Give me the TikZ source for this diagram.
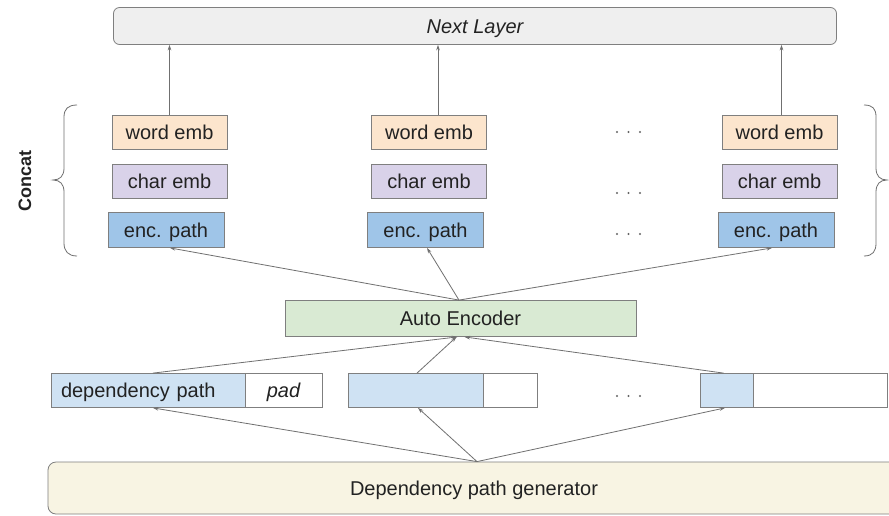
\documentclass[tikz,border=0pt]{standalone}
\usepackage{fontspec}
\setmainfont{Liberation Sans}
\usetikzlibrary{arrows.meta,calc}
\definecolor{txt}{HTML}{222222}
\definecolor{bord}{HTML}{7F7F7F}
\definecolor{arr}{HTML}{707070}
\definecolor{nextc}{HTML}{EFEFEF}
\definecolor{wordc}{HTML}{FCE5CD}
\definecolor{charc}{HTML}{D9D2E9}
\definecolor{encc}{HTML}{9FC5E8}
\definecolor{aec}{HTML}{D9EAD3}
\definecolor{depc}{HTML}{CFE2F3}
\definecolor{genc}{HTML}{F8F4E3}
\begin{document}
\begin{tikzpicture}[x=1pt,y=-1pt,
  box/.style={draw=bord, line width=0.8pt, inner sep=0pt, text=txt,
    font=\fontsize{20}{23}\selectfont, minimum height=34pt,
    text height=14pt, text depth=0pt},
  wordbox/.style={box, fill=wordc, minimum width=115pt},
  charbox/.style={box, fill=charc, minimum width=115pt},
  encbox/.style={box, fill=encc, minimum width=116pt, minimum height=35pt},
  depbox/.style={box, fill=depc},
  padbox/.style={box, fill=white},
  arrow/.style={draw=arr, line width=0.8pt, -{Stealth[length=5.5pt,width=3.6pt]}},
  brace/.style={draw=arr, line width=0.8pt},
  dot/.style={fill=txt!70}
]
\clip (0,0) rectangle (889,515);
\fill[white] (0,0) rectangle (889,515);

% top layer
\node[box, fill=nextc, rounded corners=6pt, minimum width=723pt, minimum height=37pt,
  font=\fontsize{20}{23}\selectfont\itshape] (next) at (475,26) {Next Layer};

% embedding columns
\node[wordbox] (w1) at (169.5,132) {word emb};
\node[charbox] (c1) at (169.5,181) {char emb};
\node[encbox]  (e1) at (166,230) {enc. path};
\node[wordbox] (w2) at (429,132) {word emb};
\node[charbox] (c2) at (429,181) {char emb};
\node[encbox]  (e2) at (425.5,230) {enc. path};
\node[wordbox] (w3) at (779.5,132) {word emb};
\node[charbox] (c3) at (779.5,181) {char emb};
\node[encbox]  (e3) at (776,230) {enc. path};

\foreach \y in {132,193,234}{
  \foreach \x in {617,628.5,640}{\fill[dot] (\x,\y) circle (1.1pt);}
}

% braces
\draw[brace] (77,105) .. controls (68,105) and (64,109) .. (64,117) -- (64,168)
  .. controls (64,176) and (60,180) .. (53,180) .. controls (60,180) and (64,184) .. (64,192)
  -- (64,243) .. controls (64,251) and (68,256) .. (77,256);
\draw[brace] (864,105) .. controls (873,105) and (876,109) .. (876,117) -- (876,168)
  .. controls (876,176) and (880,180) .. (887,180) .. controls (880,180) and (876,184) .. (876,192)
  -- (876,243) .. controls (876,251) and (873,256) .. (864,256);
\node[rotate=90, font=\fontsize{18}{21}\selectfont\bfseries, text=txt] (concat) at (25,181) {Concat};

% auto encoder
\node[box, fill=aec, minimum width=351pt, minimum height=36pt] (ae) at (460.5,318.5) {Auto Encoder};

% dependency paths
\node[depbox, minimum width=194pt, text width=174pt, inner xsep=10pt, align=left] (d1) at (148,390.5) {dependency path};
\node[padbox, minimum width=77pt, font=\fontsize{20}{23}\selectfont\itshape] (p1) at (283.5,390.5) {pad};
\node[depbox, minimum width=135pt] (d2) at (415.5,390.5) {};
\node[padbox, minimum width=54pt] (p2) at (510,390.5) {};
\node[depbox, minimum width=53pt] (d3) at (726.5,390.5) {};
\node[padbox, minimum width=134pt] (p3) at (820,390.5) {};
\foreach \x in {617,628.5,640}{\fill[dot] (\x,396) circle (1.1pt);}

% generator
\node[box, fill=genc, rounded corners=8pt, minimum width=852pt, minimum height=52pt] (gen) at (474,488) {Dependency path generator};

% arrows to next layer
\draw[arrow] (w1.north) -- (w1.north |- next.south);
\draw[arrow] ($(w2.north)+(9,0)$) -- ($(w2.north |- next.south)+(9,0)$);
\draw[arrow] ($(w3.north)+(2,0)$) -- ($(w3.north |- next.south)+(2,0)$);

% auto encoder to enc. path
\draw[arrow] ($(ae.north)+(-1.5,0)$) -- ($(e1.south)+(4,0)$);
\draw[arrow] ($(ae.north)+(-1.5,0)$) -- ($(e2.south)+(1.5,0)$);
\draw[arrow] ($(ae.north)+(-1.5,0)$) -- ($(e3.south)+(-4,0)$);

% dependency paths to auto encoder
\draw[arrow] ($(d1.north)+(5,0)$) -- ($(ae.south)+(-3,0)$);
\draw[arrow] ($(d2.north)+(1.5,0)$) -- ($(ae.south)+(-4,0)$);
\draw[arrow] ($(d3.north)+(-3,0)$) -- ($(ae.south)+(4,0)$);

% generator to dependency paths
\draw[arrow] ($(gen.north)+(3,0)$) -- ($(d1.south)+(5,0)$);
\draw[arrow] ($(gen.north)+(3,0)$) -- ($(d2.south)+(2.5,0)$);
\draw[arrow] ($(gen.north)+(3,0)$) -- ($(d3.south)+(-1.5,0)$);
\end{tikzpicture}
\end{document}
